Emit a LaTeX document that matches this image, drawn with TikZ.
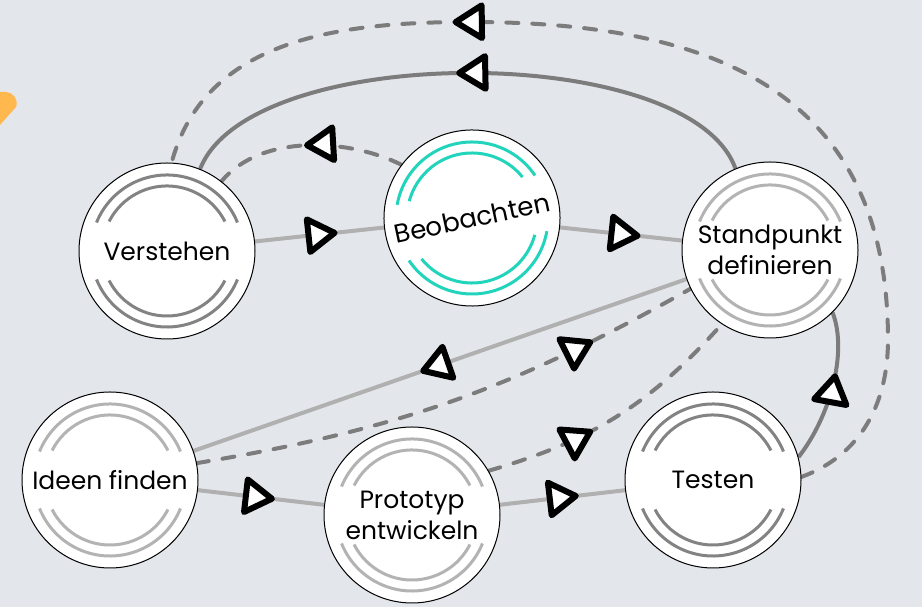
\documentclass[tikz,border=0pt]{standalone}
\RequirePackage{fontspec}
\setmainfont{Poppins}
\RequirePackage{tikz}
\usetikzlibrary{arrows.meta}
\usetikzlibrary{decorations.markings}

\definecolor{bgcol}{HTML}{E3E6EB}
\definecolor{darkline}{HTML}{7C7C7C}
\definecolor{lightline}{HTML}{B0B0B0}
\definecolor{ringdark}{HTML}{838383}
\definecolor{ringlight}{HTML}{B3B3B3}
\definecolor{ringteal}{HTML}{22D4BC}
\definecolor{blob}{HTML}{FFB84D}

\pgfdeclarelayer{back}
\pgfdeclarelayer{links}
\pgfsetlayers{back,links,main}

\tikzset{
  flowtip/.tip={Triangle[length=35pt,width=42pt,line width=6pt,round,color=black,fill=white]},
  stage/.style={circle,draw=black,line width=1pt,fill=white,minimum size=176pt,inner sep=0pt,align=center,font=\fontsize{25}{31}\selectfont},
  fwd/.style={line width=4pt,draw=lightline},
  loopback/.style={line width=4pt,draw=darkline},
  dashback/.style={line width=4pt,draw=darkline,line cap=round,dash pattern=on 12pt off 14pt},
  tipat/.style={postaction={decorate,decoration={markings,mark=at position #1 with {\arrow{flowtip}}}}}
}

\newcommand\stagerings[3]{%
  \begin{scope}[shift={(#1.center)},rotate=#3,line width=3pt,draw=#2]
    \draw (22:76pt) arc[start angle=22,end angle=158,radius=76pt];
    \draw (27:65pt) arc[start angle=27,end angle=153,radius=65pt];
    \draw (-22:76pt) arc[start angle=-22,end angle=-158,radius=76pt];
    \draw (-27:65pt) arc[start angle=-27,end angle=-153,radius=65pt];
  \end{scope}}

\begin{document}
\begin{tikzpicture}[x=1pt,y=1pt]
                \begin{pgfonlayer}{back}
                \fill[bgcol] (0,0) rectangle (922,607);
                \fill[blob] (0,515) -- (6,515) .. controls (13,515) and (19,507) .. (16,500) -- (0,482) -- cycle;
                \end{pgfonlayer}

                \node[stage] (verst) at (167,356) {Verstehen};
                \node[stage,rotate=12,font=\fontsize{26}{31}\selectfont] (beob) at (472,389) {Beobachten};
                \node[stage] (stand) at (770,357) {Standpunkt\\definieren};
                \node[stage] (ideen) at (110,127) {Ideen finden};
                \node[stage] (proto) at (412,92) {Prototyp\\entwickeln};
                \node[stage] (test) at (713,127) {Testen};

                \stagerings{verst}{ringdark}{0}
                \stagerings{beob}{ringteal}{12}
                \stagerings{stand}{ringlight}{0}
                \stagerings{ideen}{ringlight}{0}
                \stagerings{proto}{ringlight}{0}
                \stagerings{test}{ringdark}{0}

                \begin{pgfonlayer}{links}
                \draw[fwd,tipat=0.64] (verst) -- (beob);
                \draw[fwd,tipat=0.66] (beob) -- (stand);
                \draw[fwd,tipat=0.54] (stand) -- (ideen);
                \draw[fwd,tipat=0.61] (ideen) -- (proto);
                \draw[fwd,tipat=0.63] (proto) -- (test);

                \draw[dashback,tipat=0.52] (beob.131) .. controls (350,468) and (262,474) .. (verst.52);
                \draw[loopback,tipat=0.52] (stand.113) .. controls (690,566) and (250,566) .. (verst.68);
                \draw[dashback,tipat=0.7] (test.2) to[out=20,in=-90] (888,267) to[out=90,in=0,looseness=1.2] (470,585) to[out=180,in=75] (verst.87);
                \draw[loopback,tipat=0.6] (test.15) .. controls (830,190) and (848,255) .. (stand.-45);
                \draw[dashback,tipat=0.79] (ideen.11) to[bend right=10] (stand.206);
                \draw[dashback,tipat=0.4] (proto.30) to[bend right=16] (stand.237);
                \end{pgfonlayer}
\end{tikzpicture}
\end{document}
